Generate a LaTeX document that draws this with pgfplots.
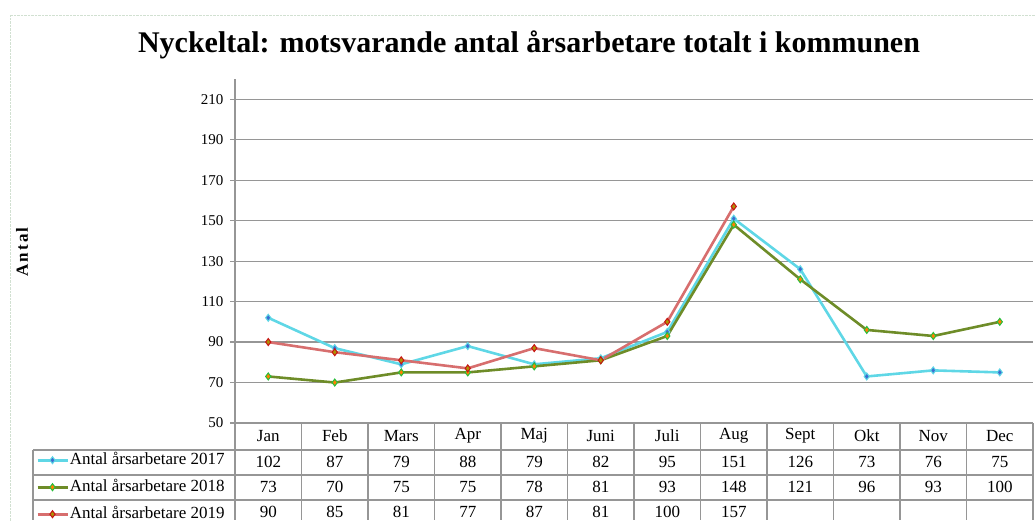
\documentclass[border=0pt]{standalone}
\usepackage{fontspec}
\setmainfont{Liberation Serif}
\usepackage{pgfplots}
\pgfplotsset{compat=1.18}
\definecolor{c17}{RGB}{95,215,230}
\definecolor{m17}{RGB}{60,110,210}
\definecolor{c18}{RGB}{110,140,40}
\definecolor{m18}{RGB}{40,190,60}
\definecolor{c19}{RGB}{215,110,110}
\definecolor{m19}{RGB}{200,20,20}
\definecolor{gridc}{RGB}{150,150,150}
\begin{document}
\begin{tikzpicture}[x=1pt,y=1pt]
\useasboundingbox (0,0) rectangle (1035,520);
\clip (0,0) rectangle (1035,520);
\draw[densely dotted, green!20!gray!30] (10,-5) -- (10,505) -- (1040,505);
\node[font=\fontsize{30}{34}\selectfont\bfseries] at (529,475) {Nyckeltal: motsvarande antal årsarbetare totalt i kommunen};
\node[font=\fontsize{17}{17}\selectfont\bfseries\addfontfeature{LetterSpace=12}, rotate=90] at (22,268) {Antal};
\begin{axis}[at={(235pt,97pt)}, anchor=south west, scale only axis,
  width=798pt, height=344pt,
  xmin=-0.5, xmax=11.5, ymin=50, ymax=220,
  ytick={50,70,...,210}, xtick=\empty,
  axis lines*=left,
  axis line style={gridc, line width=1.2pt},
  ymajorgrids, grid style={gridc, line width=1.2pt},
  tick align=outside, major tick length=5pt,
  y tick style={gridc, line width=1.2pt},
  /pgf/number format/assume math mode=true,
  yticklabel style={font=\fontsize{15}{15}\selectfont, xshift=-3pt},
  clip=false,
  legend style={at={(-0.2531,-0.0785)}, anchor=north west, draw=none, fill=none,
    font=\fontsize{17}{17}\selectfont, row sep=11pt,
    nodes={inner sep=1pt, text height=11pt, text depth=3pt},
    cells={anchor=west}},
  legend image code/.code={\draw[mark repeat=2,mark phase=2] plot coordinates {(0pt,0pt) (15pt,0pt) (30pt,0pt)};},
]
\addplot[c17, line width=2.6pt, mark=diamond*, mark options={fill=m17, draw=c17, line width=1pt, mark size=3.5pt}]
  coordinates {(0,102) (1,87) (2,79) (3,88) (4,79) (5,82) (6,95) (7,151) (8,126) (9,73) (10,76) (11,75)};
\addlegendentry{Antal årsarbetare 2017}
\addplot[c18, line width=2.6pt, mark=diamond*, mark options={fill=orange, draw=m18, line width=1pt, mark size=3.5pt}]
  coordinates {(0,73) (1,70) (2,75) (3,75) (4,78) (5,81) (6,93) (7,148) (8,121) (9,96) (10,93) (11,100)};
\addlegendentry{Antal årsarbetare 2018}
\addplot[c19, line width=2.6pt, mark=diamond*, mark options={fill=olive!70!orange, draw=m19, line width=1pt, mark size=3.5pt}]
  coordinates {(0,90) (1,85) (2,81) (3,77) (4,87) (5,81) (6,100) (7,157)};
\addlegendentry{Antal årsarbetare 2019}
\end{axis}
% data table under the chart
\foreach \y in {70,45,20} \draw[gridc, line width=1.2pt] (33,\y) -- (1033,\y);
\draw[gridc, line width=1.2pt] (33,70) -- (33,0);
\foreach \k in {0,...,12} \draw[gridc, line width=1.2pt] ({235+66.5*\k},97) -- ({235+66.5*\k},0);
\begin{scope}[every node/.style={font=\fontsize{17}{17}\selectfont}]
\foreach \m [count=\i from 0] in {Jan,Feb,Mars,Apr,Maj,Juni,Juli,Aug,Sept,Okt,Nov,Dec}
  \node at ({268.25+66.5*\i},84) {\m};
\foreach \v [count=\i from 0] in {102,87,79,88,79,82,95,151,126,73,76,75}
  \node at ({268.25+66.5*\i},58) {\v};
\foreach \v [count=\i from 0] in {73,70,75,75,78,81,93,148,121,96,93,100}
  \node at ({268.25+66.5*\i},33) {\v};
\foreach \v [count=\i from 0] in {90,85,81,77,87,81,100,157}
  \node at ({268.25+66.5*\i},8) {\v};
\end{scope}
\end{tikzpicture}
\end{document}
